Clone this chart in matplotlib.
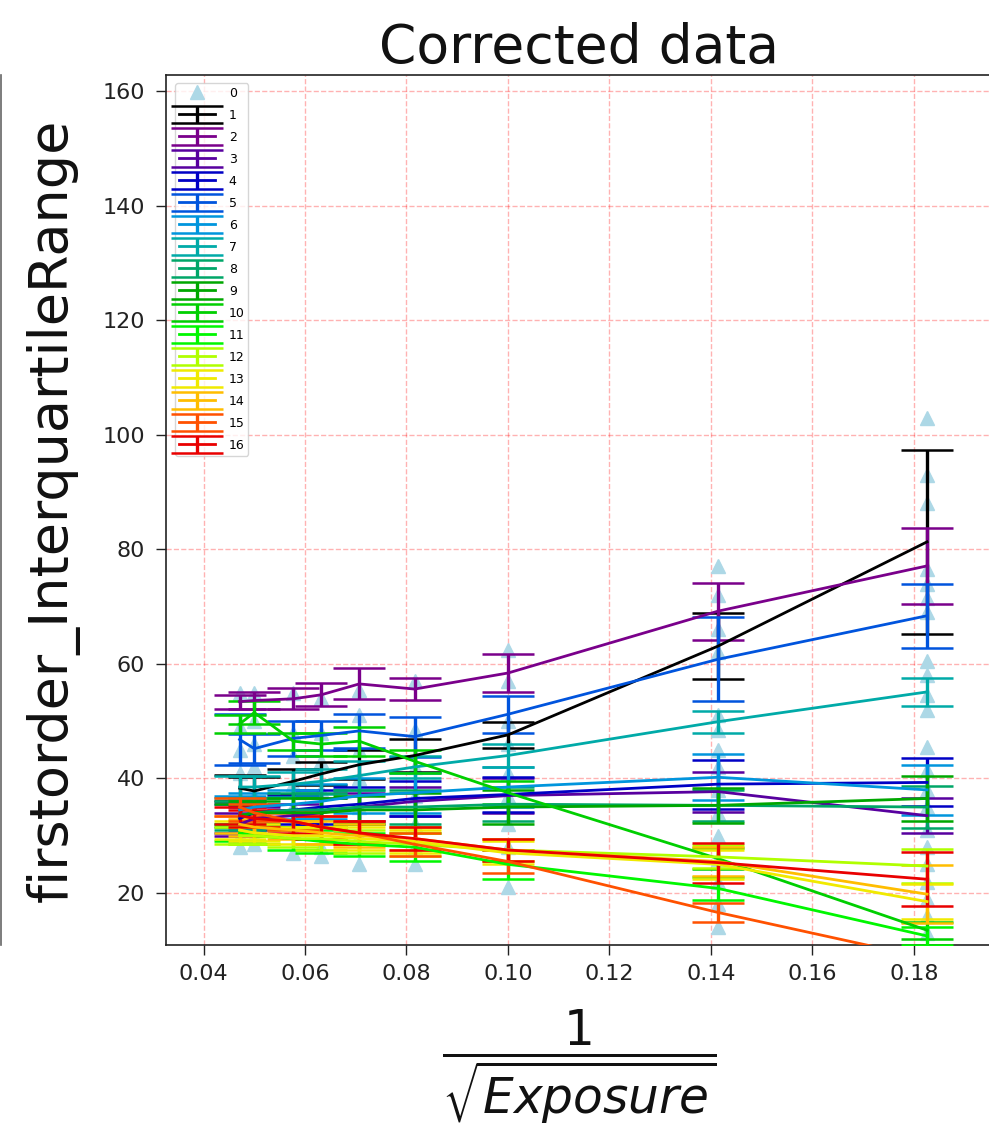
import numpy as np
import matplotlib
matplotlib.use("Agg")
import matplotlib.pyplot as plt
from matplotlib.lines import Line2D
from matplotlib.legend_handler import HandlerErrorbar
from matplotlib.container import ErrorbarContainer

# ---- data ----
x_vals = [0.0471, 0.0500, 0.0577, 0.0632, 0.0707, 0.0816, 0.1000, 0.1414, 0.1826]

tri_0471 = [55, 49, 45, 41, 36, 33, 30, 28]
tri_0500 = [55, 50, 46, 42, 37, 33, 30, 28.5]
tri_0577 = [55, 48, 44, 39, 35, 31, 27]
tri_0632 = [54, 48, 43, 38, 33, 28, 26.5]
tri_0707 = [55.5, 51, 45, 40, 35, 30, 25]
tri_0816 = [57, 48.5, 42, 37, 32, 28, 25]
tri_1000 = [62.5, 57, 50, 46, 41, 37, 32, 28, 21]
tri_1414 = [77, 72, 66, 62, 51, 48.5, 45, 42, 38, 34, 30, 26, 22, 18, 14]
tri_1826 = [103, 93, 88, 76.5, 74, 71.5, 69, 60.5, 58, 54.5, 52, 45.5, 41.5,
            38, 35, 31, 28, 25, 22, 19, 16, 13]
tri_columns = [tri_0471, tri_0500, tri_0577, tri_0632, tri_0707, tri_0816,
               tri_1000, tri_1414, tri_1826]

labels = [str(i) for i in range(1, 17)]

mean_1 = [38.3, 37.8, 39.5, 40.8, 42.4, 44.0, 47.6, 63.1, 81.3]
err_1 = [2.3, 2.5, 2.2, 2.0, 2.5, 2.8, 2.3, 5.8, 16.0]
mean_2 = [53.4, 53.6, 53.9, 54.6, 56.5, 55.6, 58.4, 69.2, 77.1]
err_2 = [1.2, 1.5, 1.8, 2.0, 2.7, 1.9, 3.3, 5.0, 6.7]
mean_3 = [32.0, 33.0, 33.5, 34.0, 35.0, 36.0, 37.0, 37.7, 33.5]
err_3 = [2.0, 2.0, 2.0, 2.5, 2.5, 2.5, 3.0, 3.5, 3.0]
mean_4 = [33.0, 34.0, 34.5, 35.0, 35.5, 36.5, 37.2, 39.0, 39.3]
err_4 = [2.5, 2.5, 2.5, 3.0, 3.0, 3.0, 3.0, 4.3, 4.2]
mean_5 = [46.8, 45.2, 47.0, 47.5, 48.3, 47.3, 51.2, 60.8, 68.4]
err_5 = [4.5, 2.5, 3.0, 2.5, 3.0, 3.5, 3.2, 7.3, 5.6]
mean_6 = [34.5, 35.0, 35.5, 36.0, 37.0, 37.5, 38.5, 40.2, 38.0]
err_6 = [2.5, 2.5, 2.5, 3.0, 3.0, 3.5, 3.5, 4.0, 4.3]
mean_7 = [38.5, 38.5, 39.0, 39.5, 40.5, 42.0, 44.0, 49.9, 55.1]
err_7 = [2.0, 2.0, 2.2, 2.2, 2.5, 2.0, 2.0, 1.9, 2.5]
mean_8 = [33.5, 34.0, 34.5, 34.5, 35.0, 35.0, 35.5, 35.3, 35.0]
err_8 = [2.5, 2.5, 3.0, 3.0, 3.0, 3.0, 3.0, 2.7, 3.7]
mean_9 = [33.5, 34.0, 34.0, 34.0, 34.5, 34.5, 35.0, 35.3, 36.5]
err_9 = [2.0, 2.0, 2.5, 2.5, 2.5, 3.0, 3.0, 3.0, 4.0]
mean_10 = [49.5, 51.5, 46.5, 46.0, 46.5, 43.0, 37.5, 26.0, 13.5]
err_10 = [1.5, 2.0, 1.5, 2.0, 2.5, 2.0, 2.0, 1.8, 1.5]
mean_11 = [30.5, 30.0, 29.5, 29.0, 28.5, 28.0, 25.0, 20.8, 12.5]
err_11 = [1.5, 1.5, 2.0, 2.0, 2.0, 2.5, 2.5, 2.0, 1.5]
mean_12 = [30.0, 30.0, 29.5, 29.5, 29.0, 28.5, 27.5, 26.3, 24.7]
err_12 = [1.5, 1.5, 1.5, 2.0, 2.0, 2.0, 2.0, 2.0, 2.9]
mean_13 = [31.0, 30.5, 30.0, 30.0, 29.5, 29.0, 27.0, 25.0, 18.5]
err_13 = [1.5, 1.5, 1.5, 1.5, 2.0, 2.0, 2.0, 2.5, 3.0]
mean_14 = [32.0, 31.5, 31.0, 30.5, 30.0, 29.5, 27.5, 25.5, 19.8]
err_14 = [1.5, 1.5, 1.5, 2.0, 2.0, 2.0, 2.0, 2.5, 5.0]
mean_15 = [35.0, 34.0, 32.5, 31.5, 30.5, 28.5, 25.5, 16.6, 8.6]
err_15 = [1.5, 1.5, 1.5, 2.0, 2.0, 2.0, 2.0, 1.7, 1.5]
mean_16 = [33.5, 33.0, 32.5, 31.5, 30.5, 29.5, 27.5, 25.3, 22.4]
err_16 = [1.5, 1.5, 2.0, 2.0, 2.0, 2.0, 2.0, 3.5, 4.7]

means = [mean_1, mean_2, mean_3, mean_4, mean_5, mean_6, mean_7, mean_8,
         mean_9, mean_10, mean_11, mean_12, mean_13, mean_14, mean_15, mean_16]
errs = [err_1, err_2, err_3, err_4, err_5, err_6, err_7, err_8,
        err_9, err_10, err_11, err_12, err_13, err_14, err_15, err_16]

# ---- figure ----
W, H = 989, 1136
fig = plt.figure(figsize=(W / 100, H / 100), dpi=100)
ax = fig.add_axes([166 / W, (H - 945) / H, 826 / W, 870 / H])

# sliver of neighbouring panel
fig.add_artist(Line2D([1.0 / W, 1.0 / W], [(H - 945) / H, (H - 75) / H],
                      transform=fig.transFigure, color='#666666', lw=1.2))

tx, ty = [], []
for xv, col in zip(x_vals, tri_columns):
    tx += [xv] * len(col)
    ty += col
ax.plot(tx, ty, linestyle='none', marker='^', color='lightblue', ms=9.5,
        label='0', zorder=2)

colors = [plt.cm.nipy_spectral(k / 17) for k in range(16)]
for lab, m, e, c in zip(labels, means, errs, colors):
    ax.errorbar(x_vals, m, yerr=e, color=c, lw=2.0, elinewidth=2.4,
                capsize=19, capthick=1.8, label=lab, zorder=3)

ax.set_xlim(0.0326, 0.1954)
ax.set_ylim(10.92, 162.8)
ax.set_yticks([20, 40, 60, 80, 100, 120, 140, 160])
ax.set_xticks([0.04, 0.06, 0.08, 0.10, 0.12, 0.14, 0.16, 0.18])
ax.set_xticklabels(['0.04', '0.06', '0.08', '0.10', '0.12', '0.14', '0.16', '0.18'])
ax.tick_params(labelsize=16, length=7, width=1, colors='#222222')
ax.tick_params(axis='x', pad=7)
ax.tick_params(axis='y', pad=8)
ax.grid(True, color='red', linestyle='--', alpha=0.3, lw=1)
ax.set_axisbelow(True)
for s in ax.spines.values():
    s.set_color('#222222')
    s.set_linewidth(1.2)

ax.set_title('Corrected data', fontsize=38.5, pad=9, color='#111111')
ax.set_ylabel('firstorder_InterquartileRange', fontsize=39, color='#111111')
ax.yaxis.set_label_coords(-0.104, 0.5)
ax.set_xlabel(r'$\dfrac{1}{\sqrt{Exposure}}$', fontsize=35, color='#111111')
ax.xaxis.set_label_coords(0.5, -0.072)

handles, labs = ax.get_legend_handles_labels()
hm = {ErrorbarContainer: HandlerErrorbar(yerr_size=0.67)}
leg = ax.legend(handles, labs, loc='upper left',
                bbox_to_anchor=((175 - 166) / 826, (945 - 83) / 870),
                borderaxespad=0, fontsize=9, borderpad=0.3, labelspacing=0.72,
                handlelength=2.9, handletextpad=1.1, handler_map=hm)

fig.savefig('out.png', dpi=100)
